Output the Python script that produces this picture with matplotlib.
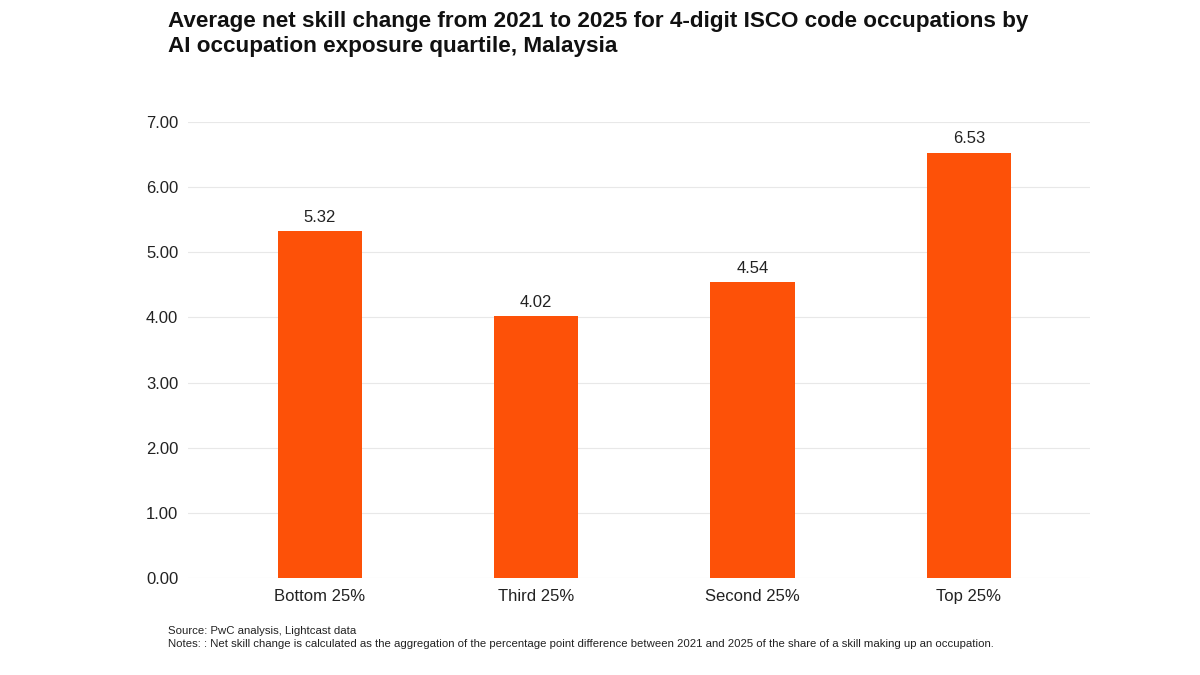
import matplotlib.pyplot as plt

plt.rcParams['font.family'] = ['Liberation Sans', 'DejaVu Sans']

categories = ['Bottom 25%', 'Third 25%', 'Second 25%', 'Top 25%']
values = [5.32, 4.02, 4.54, 6.53]
yticks = [0, 1, 2, 3, 4, 5, 6, 7]

orange = '#FD5108'

fig = plt.figure(figsize=(12, 6.75), dpi=100)
ax = fig.add_axes([188 / 1200, 1 - 578 / 675, (1090 - 188) / 1200, (578 - 122) / 675])

x = list(range(len(categories)))
bars = ax.bar(x, values, width=0.39, color=orange, zorder=3)
for xi, v in zip(x, values):
    ax.text(xi, v + 0.1, f'{v:.2f}', ha='center', va='bottom', fontsize=12, color='#222222')

ax.set_ylim(0, 7)
ax.set_xlim(-0.61, 3.56)
ax.set_yticks(yticks)
ax.set_yticklabels([f'{t:.2f}' for t in yticks])
ax.set_xticks(x)
ax.set_xticklabels(categories)
ax.tick_params(axis='both', length=0, labelsize=12, colors='#222222')
ax.tick_params(axis='y', pad=7)
ax.tick_params(axis='x', pad=8)
ax.grid(axis='y', color='#e8e8e8', linewidth=0.8, zorder=0)
for s in ax.spines.values():
    s.set_visible(False)

fig.text(168 / 1200, 1 - 11 / 675,
         'Average net skill change from 2021 to 2025 for 4-digit ISCO code occupations by\n'
         'AI occupation exposure quartile, Malaysia',
         fontsize=16.2, fontweight='bold', ha='left', va='top', linespacing=1.25,
         color='#111111')

fig.text(168 / 1200, 1 - 634 / 675, 'Source: PwC analysis, Lightcast data',
         fontsize=8.2, ha='left', va='baseline', color='#222222')
fig.text(168 / 1200, 1 - 647 / 675,
         'Notes: : Net skill change is calculated as the aggregation of the percentage point difference '
         'between 2021 and 2025 of the share of a skill making up an occupation.',
         fontsize=8.2, ha='left', va='baseline', color='#222222')

fig.savefig('out.png', dpi=100)
